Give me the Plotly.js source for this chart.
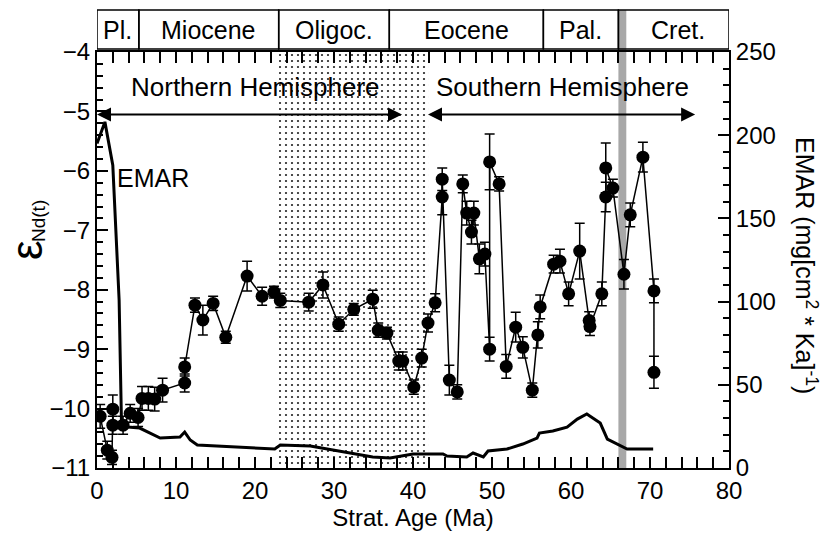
<!DOCTYPE html>
<html>
<head>
<meta charset="utf-8">
<script src="https://cdn.plot.ly/plotly-3.0.1.min.js"></script>
<style>html,body{margin:0;padding:0;background:#fff;}#chart{width:825px;height:533px;}</style>
</head>
<body>
<div id="chart"></div>
<script>
// ---- data ----
const ageNd = [0.4,1.3,1.9,2.0,2.0,3.3,4.2,5.2,5.7,6.5,7.3,8.3,11.1,11.1,12.4,13.4,14.7,16.3,19.0,20.9,22.4,23.2,26.8,28.6,30.6,32.5,34.9,35.6,36.7,38.2,38.7,40.1,41.1,41.9,42.8,43.7,43.7,44.6,45.6,46.3,46.8,47.4,47.7,48.4,49.1,49.7,49.7,50.9,51.8,53.0,53.9,55.1,55.8,56.1,57.8,58.6,59.7,61.1,62.3,62.4,63.9,64.4,64.4,65.3,66.7,67.5,69.1,70.5,70.5];
const epsNd = [-10.13,-10.70,-10.82,-10.01,-10.28,-10.28,-10.08,-10.15,-9.83,-9.83,-9.84,-9.69,-9.57,-9.30,-8.26,-8.51,-8.23,-8.80,-7.77,-8.11,-8.04,-8.18,-8.21,-7.92,-8.58,-8.33,-8.16,-8.68,-8.73,-9.20,-9.20,-9.64,-9.15,-8.56,-8.22,-6.44,-6.14,-9.52,-9.72,-6.22,-6.71,-7.03,-6.71,-7.48,-7.40,-9.00,-5.85,-6.22,-9.29,-8.63,-8.97,-9.69,-8.76,-8.29,-7.57,-7.52,-8.07,-7.35,-8.52,-8.62,-8.07,-6.44,-5.95,-6.29,-7.74,-6.74,-5.77,-8.02,-9.39];
const epsErr = [0.2,0.15,0.12,0.24,0.15,0.15,0.15,0.15,0.2,0.2,0.2,0.2,0.15,0.15,0.12,0.25,0.12,0.1,0.25,0.15,0.1,0.12,0.15,0.22,0.12,0.1,0.15,0.12,0.1,0.15,0.15,0.12,0.15,0.15,0.15,0.3,0.19,0.25,0.12,0.15,0.2,0.2,0.2,0.25,0.2,0.2,0.47,0.12,0.2,0.25,0.18,0.12,0.22,0.2,0.15,0.2,0.2,0.47,0.15,0.15,0.2,0.25,0.42,0.15,0.25,0.2,0.25,0.2,0.27];

const ageEmar = [0,1.0,2.0,2.8,3.1,3.9,5.4,8.0,10.5,11.1,11.8,12.7,22.5,23.2,27,31.1,34.9,37.1,40,43.8,44.3,46.8,47.6,48.9,49.5,51.9,53.9,55.7,56,57.7,59.5,60.8,62,63.7,64.2,64.6,67.1,70.4];
const emar = [195,208,182,101,27,24.6,24,18,18.6,21.6,16.8,13.8,11.4,13.8,13.2,9.6,6.6,6,8.4,8.4,7.2,6.6,9,6.6,10.2,11.4,14.4,18,21,22.2,24.6,29.4,32.5,27,21.6,17.4,11.4,11.4];

const epochEdges = [0,5.3,23,37,56.5,66,80];
const epochNames = ['Pl.','Miocene','Oligoc.','Eocene','Pal.','Cret.'];
const stippleRange = [23,42];
const kpgBand = [66,67];
const hemiArrows = [[0,38.8],[41.9,75.9]];
const hemiNames = ['Northern Hemisphere','Southern Hemisphere'];
const xTicks = [0,10,20,30,40,50,60,70,80];
const yTicks = [-11,-10,-9,-8,-7,-6,-5,-4];
const y2Ticks = [0,50,100,150,200,250];

// ---- layout helpers ----
const FONT = 'Liberation Sans, Arial, Helvetica, sans-serif';
const yRange = [-11,-4];
const xRange = [xTicks[0], xTicks[xTicks.length-1]];
const L = 97, R = 96, T = 52, B = 65, W = 825, H = 533;
const plotH = H - T - B, plotW = W - L - R;
const py = px => (H - B - px) / plotH;
const pxX = px => (px - L) / plotW;
const arrowY = -5.05;

const traces = [
  {
    type: 'bar', x: [(stippleRange[0]+stippleRange[1])/2], width: [stippleRange[1]-stippleRange[0]],
    y: [yRange[1]-yRange[0]], base: [yRange[0]], xaxis: 'x', yaxis: 'y',
    marker: {color: 'white', line: {width: 0},
      pattern: {shape: '.', fgcolor: '#222', bgcolor: 'white', size: 6, solidity: 0.11}},
    hoverinfo: 'skip', showlegend: false
  },
  {
    type: 'scatter', mode: 'lines+markers', x: ageNd, y: epsNd, xaxis: 'x', yaxis: 'y',
    line: {color: 'black', width: 1.5}, marker: {color: 'black', size: 13}, showlegend: false,
    error_y: {type: 'data', array: epsErr, visible: true, color: 'black', thickness: 1.5, width: 5}
  },
  {
    type: 'scatter', mode: 'lines', x: ageEmar, y: emar, xaxis: 'x', yaxis: 'y2',
    line: {color: 'black', width: 3}, showlegend: false
  }
];

const shapes = [];
for (let i = 0; i < epochNames.length; i++) {
  shapes.push({type: 'rect', xref: 'x', yref: 'paper', x0: epochEdges[i], x1: epochEdges[i+1],
    y0: py(49), y1: py(10), line: {color: 'black', width: 1.5}, fillcolor: 'rgba(0,0,0,0)'});
}
shapes.push({type: 'rect', xref: 'x', yref: 'paper', x0: kpgBand[0], x1: kpgBand[1],
  y0: 0, y1: py(10), line: {width: 0}, fillcolor: '#a8a8a8', layer: 'below'});

const annotations = [];
const txt = (a) => Object.assign({showarrow: false, xanchor: 'center', yanchor: 'middle'}, a);
for (let i = 0; i < epochNames.length; i++) {
  let a = epochEdges[i], b = epochEdges[i+1];
  if (i === epochNames.length - 1) a = kpgBand[1];
  annotations.push(txt({x: (a+b)/2, y: py(30), xref: 'x', yref: 'paper', text: epochNames[i],
    font: {family: FONT, size: 25, color: 'black'}}));
}
hemiArrows.forEach((r, i) => {
  annotations.push({x: r[0], y: arrowY, ax: r[1], ay: arrowY, xref: 'x', yref: 'y', axref: 'x', ayref: 'y',
    text: '', showarrow: true, arrowhead: 2, arrowside: 'end+start', arrowsize: 1.4, arrowwidth: 2,
    arrowcolor: 'black', standoff: 0, startstandoff: 0});
  annotations.push(txt({x: (r[0]+r[1])/2 + (i === 0 ? 0.6 : 0), y: -4.59, xref: 'x', yref: 'y', text: hemiNames[i],
    font: {family: FONT, size: 26, color: 'black'}}));
});
annotations.push(txt({x: 7.1, y: -6.12, xref: 'x', yref: 'y', text: 'EMAR',
  font: {family: FONT, size: 25, color: 'black'}}));
annotations.push(txt({x: pxX(26), y: py(250), xref: 'paper', yref: 'paper', text: 'ε', textangle: -90,
  font: {family: FONT, size: 44, color: 'black'}}));
annotations.push(txt({x: pxX(38), y: py(221), xref: 'paper', yref: 'paper', text: 'Nd(t)', textangle: -90,
  font: {family: FONT, size: 19, color: 'black'}}));
annotations.push(txt({x: pxX(806), y: py(265), xref: 'paper', yref: 'paper',
  text: 'EMAR (mg[cm<sup>2</sup> * Ka]<sup>-1</sup>)', textangle: 90,
  font: {family: FONT, size: 25, color: 'black'}}));

const tf = {family: FONT, size: 24, color: 'black'};
const ax = {showgrid: false, zeroline: false, showline: true, linecolor: 'black', linewidth: 2,
  ticks: 'inside', ticklen: 11, tickwidth: 2, tickcolor: 'black', tickfont: tf};
const mt = d => ({dtick: d, ticks: 'inside', ticklen: 6, tickwidth: 1.5, tickcolor: 'black'});

const layout = {
  width: W, height: H, margin: {l: L, r: R, t: T, b: B},
  paper_bgcolor: 'white', plot_bgcolor: 'white', showlegend: false, hovermode: false, bargap: 0,
  xaxis: Object.assign({}, ax, {range: xRange, dtick: xTicks[1]-xTicks[0], mirror: 'allticks', minor: mt(2),
    title: {text: 'Strat. Age (Ma)', font: {family: FONT, size: 24, color: 'black'}, standoff: 6}}),
  yaxis: Object.assign({}, ax, {range: yRange, dtick: yTicks[1]-yTicks[0], minor: mt(0.2)}),
  yaxis2: Object.assign({}, ax, {range: [y2Ticks[0], y2Ticks[y2Ticks.length-1]], dtick: y2Ticks[1]-y2Ticks[0],
    overlaying: 'y', side: 'right', minor: mt(10)}),
  shapes: shapes, annotations: annotations
};

Plotly.newPlot('chart', traces, layout, {displayModeBar: false}).then(gd => {
  // make sure the axis tick marks drawn by Plotly are stroked and on top
  gd.querySelectorAll('.xaxislayer-above, .yaxislayer-above').forEach(g => {
    g.removeAttribute('clip-path');
    if (g.parentNode) g.parentNode.appendChild(g);
  });
  gd.querySelectorAll('path.xtick, path.ytick, path.y2tick').forEach(p => {
    p.style.stroke = 'black';
    p.style.strokeOpacity = '1';
    p.style.opacity = '1';
    p.style.visibility = 'visible';
    p.style.display = 'inline';
    if (!p.style.strokeWidth || parseFloat(p.style.strokeWidth) < 1) p.style.strokeWidth = '1.5px';
  });
});
</script>
</body>
</html>
